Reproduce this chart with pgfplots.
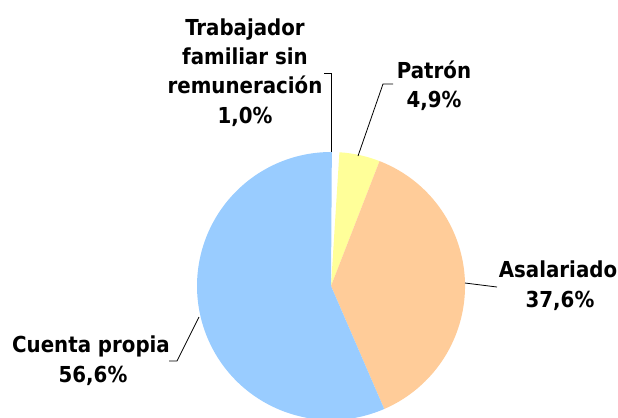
\documentclass[border=0pt]{standalone}
\usepackage{pgfplots}
\pgfplotsset{compat=1.18}
\usepackage{pgfplotstable}
\usepackage{fontspec}
\setmainfont{DejaVu Sans Condensed}
\definecolor{cBlue}{HTML}{99CCFF}
\definecolor{cPeach}{HTML}{FFCC99}
\definecolor{cYellow}{HTML}{FFFF99}
\pgfplotstableread{
label val
Trabajador 1.0
Patron 4.9
Asalariado 37.6
Cuenta 56.6
}\piedata
\pgfplotstablegetelem{0}{val}\of\piedata \let\vA\pgfplotsretval
\pgfplotstablegetelem{1}{val}\of\piedata \let\vB\pgfplotsretval
\pgfplotstablegetelem{2}{val}\of\piedata \let\vC\pgfplotsretval
\pgfplotstablegetelem{3}{val}\of\piedata \let\vD\pgfplotsretval
\pgfmathsetmacro\aA{90}
\pgfmathsetmacro\aB{\aA-3.6*\vA}
\pgfmathsetmacro\aC{\aB-3.6*\vB}
\pgfmathsetmacro\aD{\aC-3.6*\vC}
\pgfmathsetmacro\aE{\aD-3.6*\vD}
\begin{document}%
\begin{tikzpicture}
\begin{axis}[x=1bp, y=1bp, xmin=0, xmax=618, ymin=0, ymax=417,
  enlargelimits=false, hide axis, scale only axis, clip=true]
\coordinate (ll) at (axis cs:0,0);
\coordinate (ur) at (axis cs:618,417);
\fill[white] (axis cs:331,131) -- ++(\aA:134bp) arc[start angle=\aA, end angle=\aB, radius=134bp] -- cycle;
\fill[cYellow] (axis cs:331,131) -- ++(\aB:134bp) arc[start angle=\aB, end angle=\aC, radius=134bp] -- cycle;
\fill[cPeach] (axis cs:331,131) -- ++(\aC:134bp) arc[start angle=\aC, end angle=\aD, radius=134bp] -- cycle;
\fill[cBlue] (axis cs:331,131) -- ++(\aD:134bp) arc[start angle=\aD, end angle=\aE, radius=134bp] -- cycle;
% leader lines
\draw[black, line width=0.8bp] (axis cs:324,344) -- (axis cs:331,344) -- (axis cs:331,265);
\draw[black, line width=0.8bp] (axis cs:393,333) -- (axis cs:383,333) -- (axis cs:358,261);
\draw[black, line width=0.8bp] (axis cs:465,134) -- (axis cs:497,130);
\draw[black, line width=0.8bp] (axis cs:169,56) -- (axis cs:177,56) -- (axis cs:199,100);
% labels
\tikzset{lbl/.style={anchor=base, inner sep=0pt, font=\fontsize{22bp}{29bp}\selectfont\bfseries}}
\node[lbl] at (axis cs:245,382) {Trabajador};
\node[lbl] at (axis cs:245,353) {familiar sin};
\node[lbl] at (axis cs:245,324) {remuneración};
\node[lbl] at (axis cs:245,294) {1,0\%};
\node[lbl] at (axis cs:434,339) {Patrón};
\node[lbl] at (axis cs:434,310) {4,9\%};
\node[lbl] at (axis cs:558,140) {Asalariado};
\node[lbl] at (axis cs:560,110) {37,6\%};
\node[lbl] at (axis cs:91,65) {Cuenta propia};
\node[lbl] at (axis cs:93,35) {56,6\%};
\end{axis}
\pgfresetboundingbox
\useasboundingbox (ll) rectangle (ur);
\end{tikzpicture}%
\end{document}
